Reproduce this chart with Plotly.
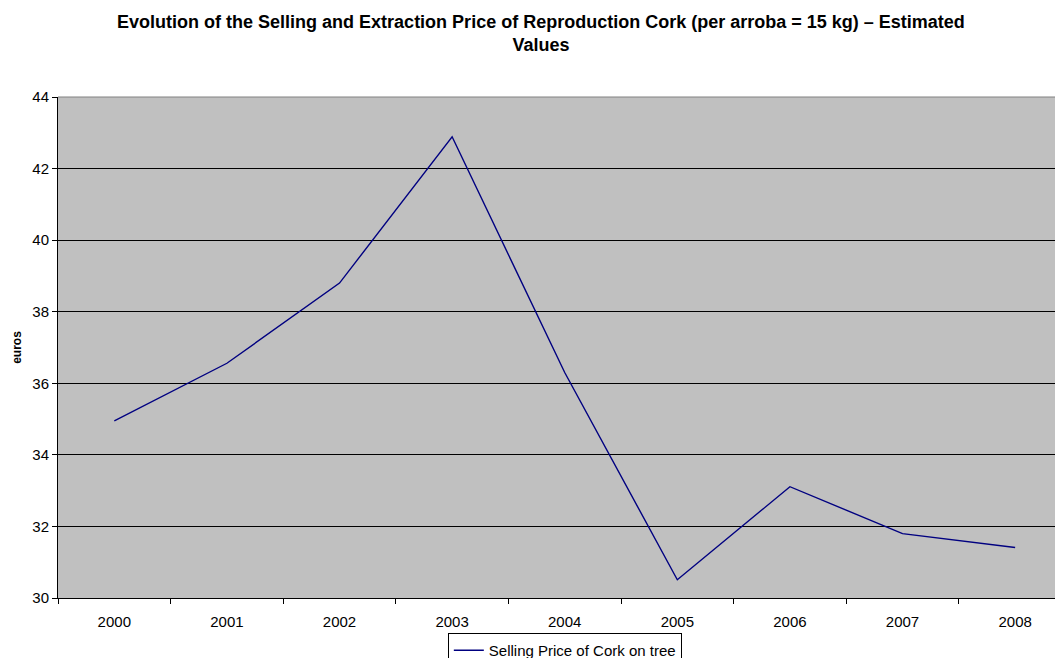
import plotly.graph_objects as go

years = ["2000", "2001", "2002", "2003", "2004", "2005", "2006", "2007", "2008"]
selling_price = [34.95, 36.56, 38.8, 42.89, 36.3, 30.51, 33.11, 31.8, 31.41]
series_name = "Selling Price of Cork on tree"
y_ticks = [30, 32, 34, 36, 38, 40, 42, 44]

FONT = "Liberation Sans, Arial, sans-serif"

fig = go.Figure()
fig.add_trace(go.Scatter(
    x=years, y=selling_price, mode="lines", name=series_name,
    line=dict(color="#000080", width=1.4),
))

# page body has an 8px default margin; keep the page within the window (no scrollbars)
fig.update_layout(
    width=1047, height=650,
    margin=dict(l=50, r=0, t=89, b=60),
    paper_bgcolor="white",
    plot_bgcolor="#C0C0C0",
    font=dict(family=FONT, size=15, color="black"),
    title=dict(
        text="Evolution of the Selling and Extraction Price of Reproduction Cork (per arroba = 15 kg) – Estimated<br>Values",
        x=0.509, xanchor="center", xref="container",
        y=0.9692, yanchor="top", yref="container",
        font=dict(family=FONT, size=18, color="black", weight="bold"),
    ),
    showlegend=True,
    legend=dict(
        orientation="h", x=0.391, xanchor="left",
        y=0.0385, yanchor="top", yref="container",
        bordercolor="black", borderwidth=1, bgcolor="white",
        font=dict(family=FONT, size=15),
        itemwidth=30,
    ),
    xaxis=dict(
        type="category",
        range=[-0.5, 8.354],
        tickson="boundaries",
        ticks="outside", ticklen=5, tickcolor="black",
        showgrid=False, showline=True, linecolor="black", linewidth=1,
        tickfont=dict(size=15),
        ticklabelstandoff=10,
        zeroline=False,
    ),
    yaxis=dict(
        range=[30, 44],
        tickvals=y_ticks,
        ticks="outside", ticklen=5, tickcolor="black",
        showgrid=True, gridcolor="black", gridwidth=1,
        showline=True, linecolor="black", linewidth=1,
        zeroline=False,
        tickfont=dict(size=15),
        title=dict(text="euros", font=dict(size=12, weight="bold"), standoff=8),
    ),
    shapes=[dict(type="line", xref="paper", yref="paper", x0=0, x1=1, y0=1, y1=1,
                 line=dict(color="#808080", width=1), layer="above")],
)

fig.write_html("out.html")
